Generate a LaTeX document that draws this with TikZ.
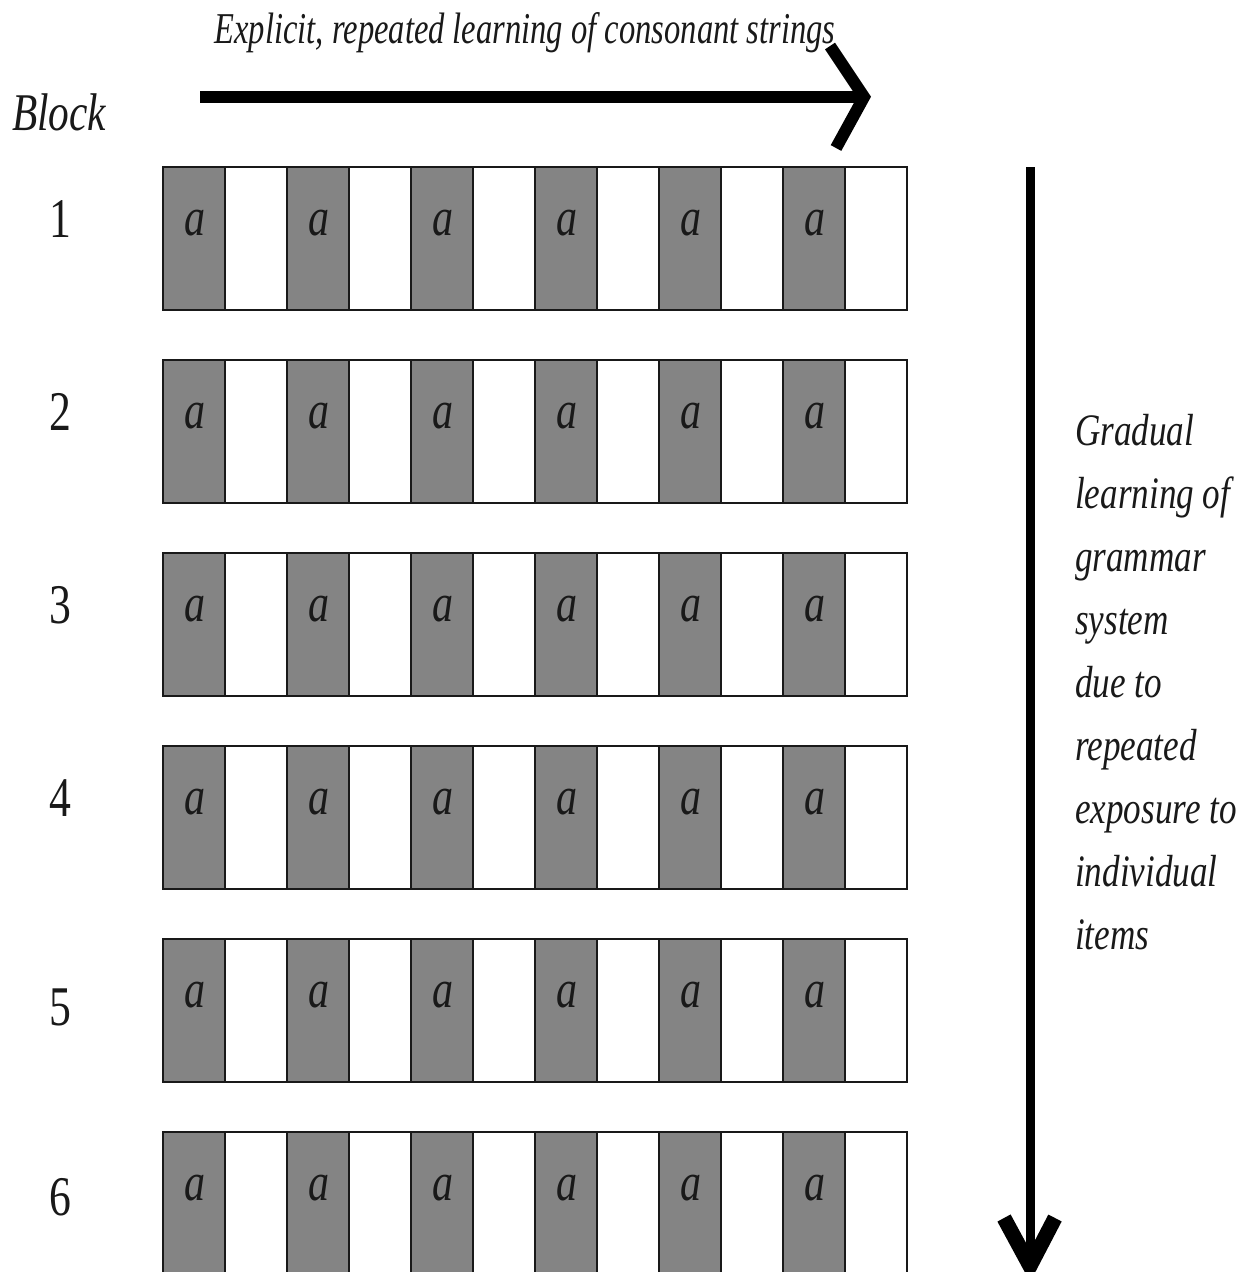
\documentclass[tikz,border=0pt]{standalone}
\usepackage{fontspec}
\newfontfamily\cond[FakeStretch=0.78,ItalicFeatures={FakeStretch=0.78}]{Liberation Serif}
\newfontfamily\condt[FakeStretch=0.74,ItalicFeatures={FakeStretch=0.74}]{Liberation Serif}
\definecolor{cellgray}{RGB}{132,132,132}
\definecolor{ink}{RGB}{25,25,25}
\tikzset{
  cellbox/.style={draw=ink, line width=2.8pt, minimum width=62pt, minimum height=143pt, anchor=north west, inner sep=0pt, outer sep=0pt},
  darkcell/.style={cellbox, fill=cellgray},
  lightcell/.style={cellbox, fill=white},
  alabel/.style={anchor=base, inner sep=0pt, text=ink, font=\cond\itshape\fontsize{54}{60}\selectfont},
  numlabel/.style={anchor=base, inner sep=0pt, text=ink, font=\cond\fontsize{56}{64}\selectfont},
  itlabel/.style={inner sep=0pt, text=ink, font=\cond\itshape\fontsize{45}{54}\selectfont},
  bigline/.style={draw=black, line width=12pt},
  vline/.style={draw=black, line width=9pt},
}
\begin{document}
\begin{tikzpicture}[x=1pt,y=-1pt]
\useasboundingbox (0,0) rectangle (1256,1272);
\clip (0,0) rectangle (1256,1272);
\fill[white] (0,0) rectangle (1256,1272);
% title and top arrow
\node[itlabel, anchor=base, font=\condt\itshape\fontsize{44}{54}\selectfont] (title) at (525,43) {Explicit, repeated learning of consonant strings};
\coordinate (hs) at (200,97);
\coordinate (he) at (864,97);
\coordinate (hu) at (830,46);
\coordinate (hl) at (836,148);
\draw[bigline] (hs) -- (he);
\draw[bigline, line join=miter] (hu) -- (he) -- (hl);
% Block label
\node[itlabel, anchor=base west, font=\cond\itshape\fontsize{53}{60}\selectfont] (block) at (12,130) {Block};
% rows
\foreach \r/\nb in {1/237,2/430,3/623,4/816,5/1025,6/1215}{
  \pgfmathsetmacro{\top}{167+193*(\r-1)}
  \foreach \k in {0,...,11}{
    \pgfmathsetmacro{\xx}{163+62*\k}
    \pgfmathtruncatemacro{\odd}{mod(\k,2)}
    \ifnum\odd=0
      \node[darkcell] (c\r-\k) at (\xx,\top) {};
    \else
      \node[lightcell] (c\r-\k) at (\xx,\top) {};
    \fi
  }
  \foreach \j in {0,...,5}{
    \pgfmathsetmacro{\ax}{195+124*\j}
    \node[alabel] (a\r-\j) at (\ax,\top+68) {a};
  }
  \node[numlabel] (n\r) at (60,\nb) {\r};
}
% vertical arrow
\coordinate (vs) at (1030,167);
\coordinate (ve) at (1030,1266);
\coordinate (vl) at (1004,1218);
\coordinate (vr) at (1055,1218);
\draw[vline] (vs) -- (ve);
\draw[draw=black, line width=15pt, line join=miter] (vl) -- (ve) -- (vr);
% right text
\foreach \t [count=\i] in {Gradual,learning of,grammar,system,due to,repeated,exposure to,individual,items}{
  \node[itlabel, anchor=base west] (r\i) at (1075,{445+63*(\i-1)}) {\t};
}
\end{tikzpicture}
\end{document}
